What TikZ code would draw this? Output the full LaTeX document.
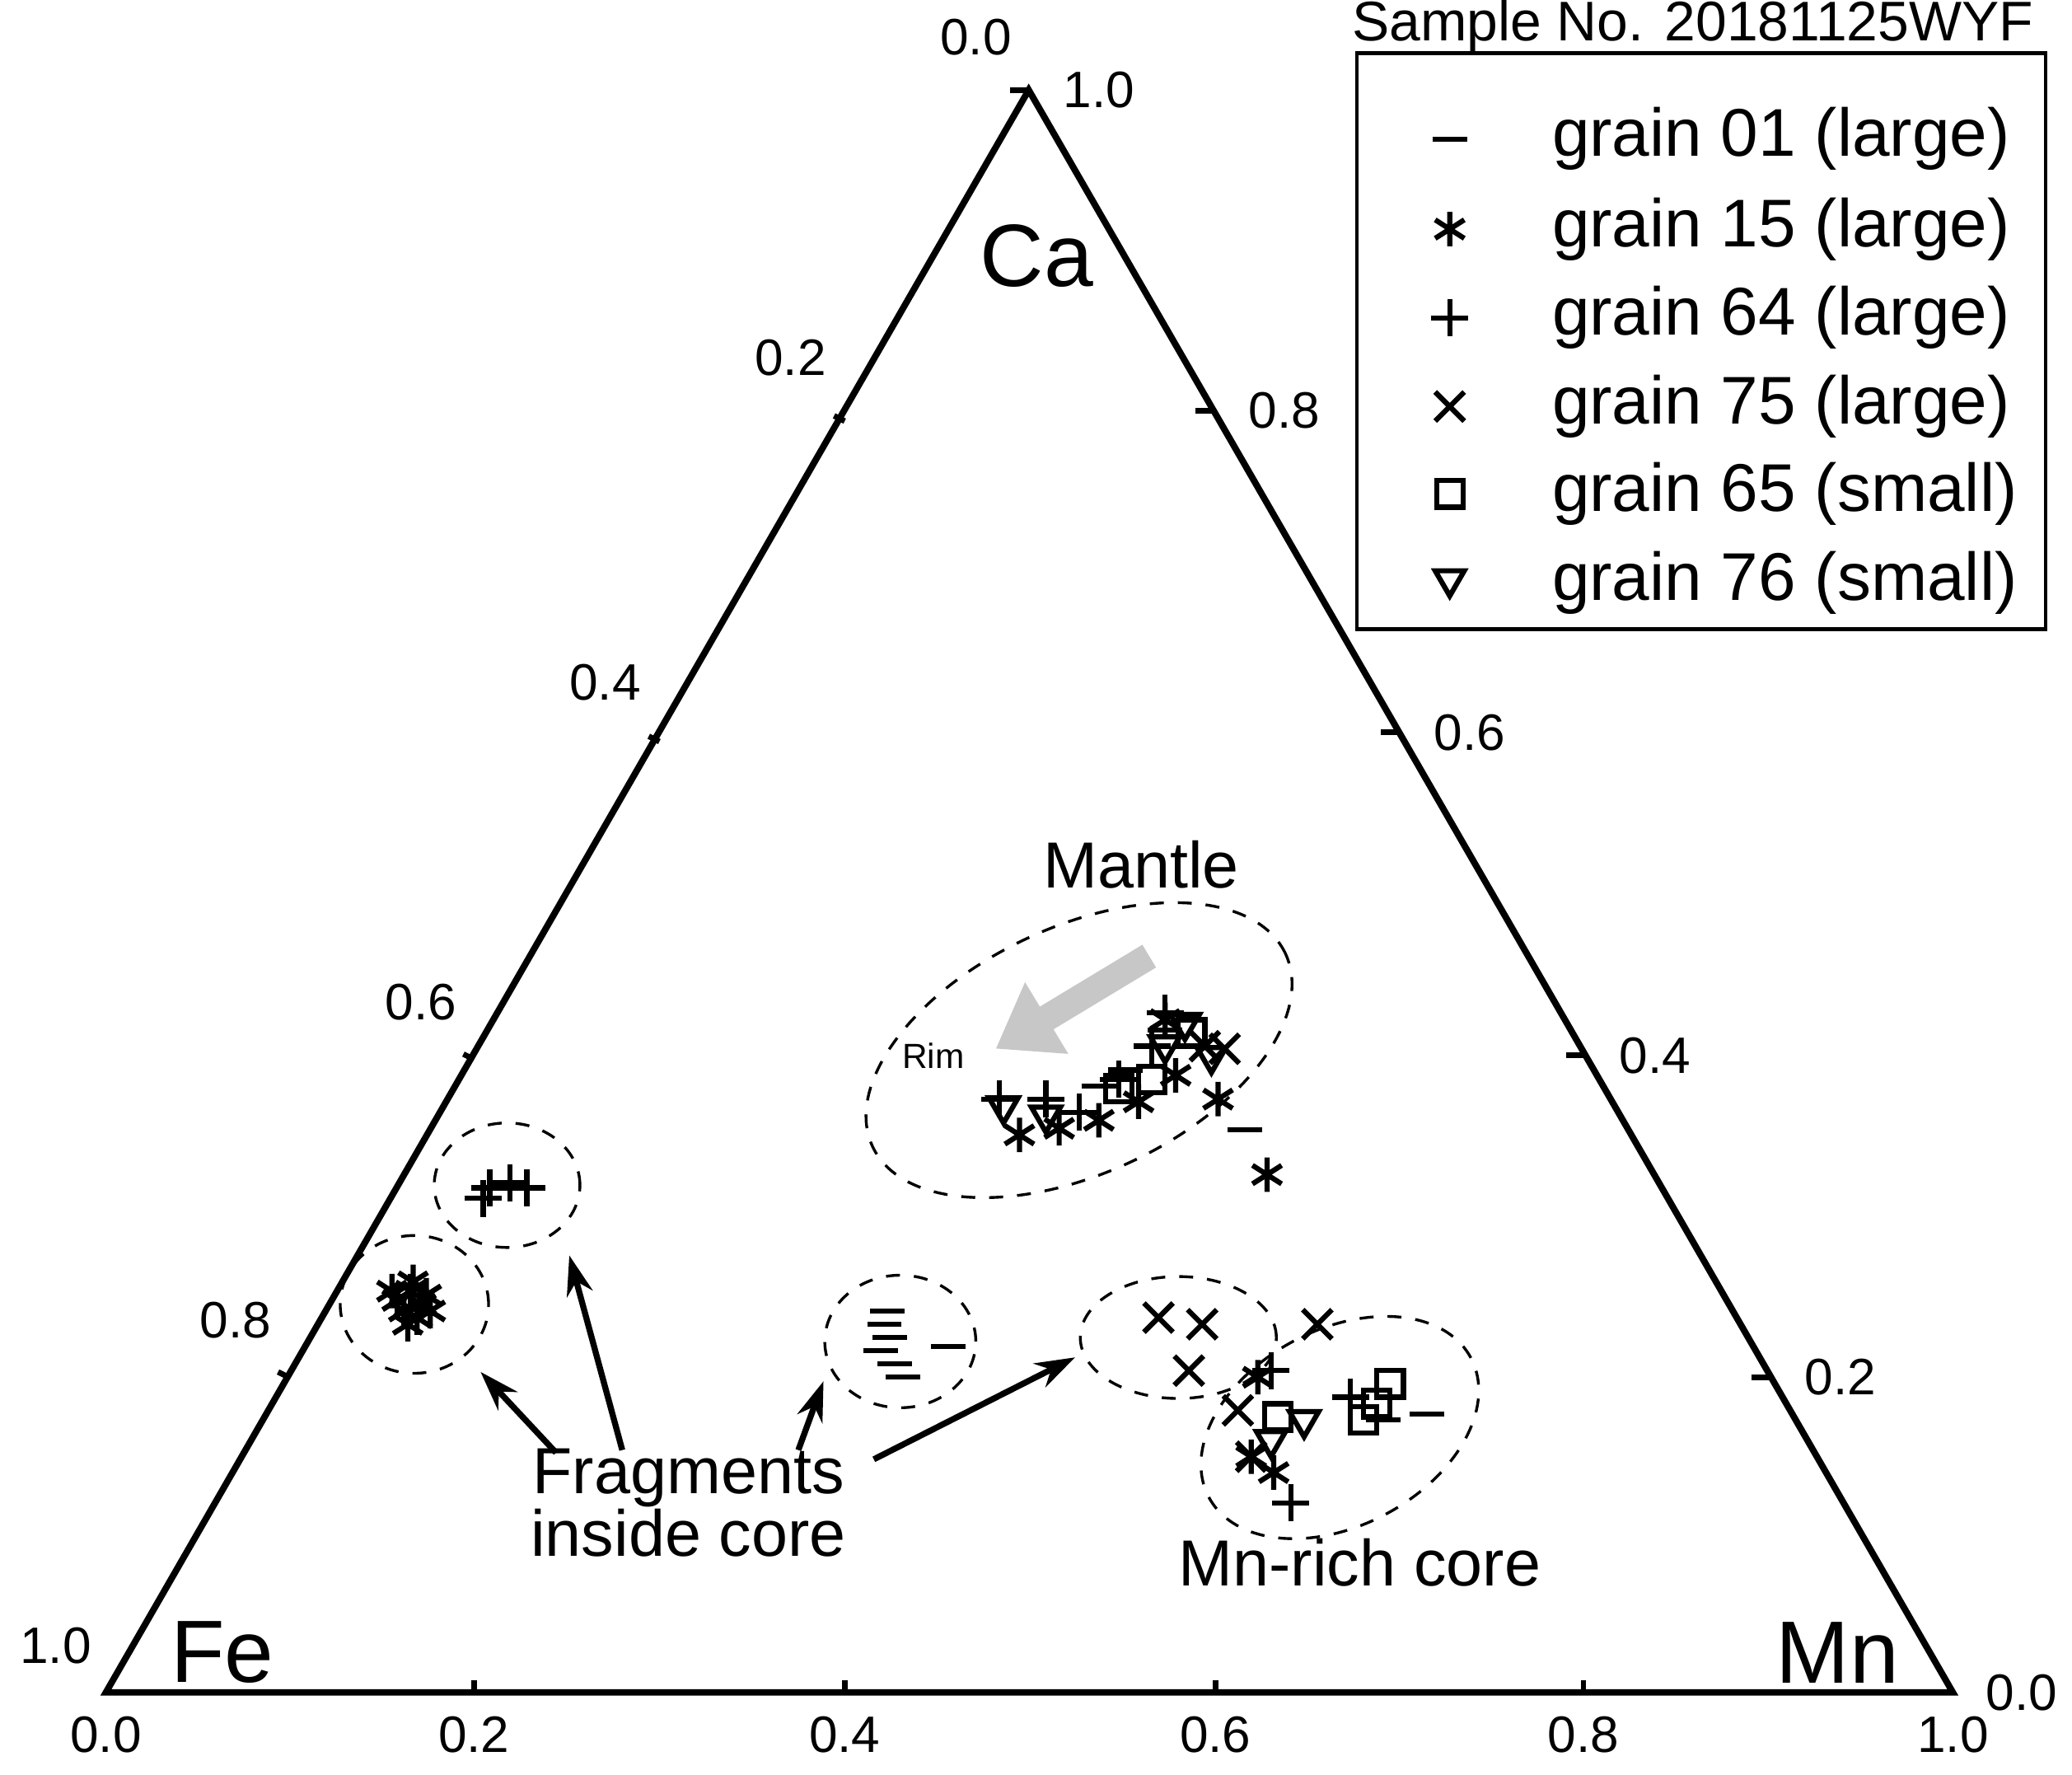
\documentclass[tikz,border=0pt]{standalone}
\usepackage{fontspec}
\setmainfont{Liberation Sans}
\usetikzlibrary{arrows, arrows.meta}

\begin{document}
\begin{tikzpicture}[
      x=0.01cm, y=-0.01cm,
      >=stealth',
      frame/.style={line width=1.4pt},
      tick/.style={line width=1.2pt},
      zone/.style={dashed, line width=0.6pt},
      mk/.style={line width=1.1pt},
      axis label/.style={font=\fontsize{11}{11}\selectfont},
      corner label/.style={font=\fontsize{19}{19}\selectfont},
      note/.style={font=\fontsize{14}{14.5}\selectfont, align=center},
      pointer/.style={->, line width=1.3pt, >={Stealth[length=0.3cm,width=0.2cm]}}
      ]
      \useasboundingbox (0,0) rectangle (1565,1340);
      % markers
      \newcommand{\mdash}[1]{\draw[mk] (#1) +(-13,0) -- +(13,0);}
      \newcommand{\mplus}[1]{\draw[mk] (#1) +(-14,0) -- +(14,0) +(0,-14) -- +(0,14);}
      \newcommand{\mcross}[1]{\draw[mk] (#1) +(-11,-11) -- +(11,11) +(-11,11) -- +(11,-11);}
      \newcommand{\mstar}[1]{\draw[mk] (#1) +(0,-13) -- +(0,13) +(-11,-7) -- +(11,7) +(-11,7) -- +(11,-7);}
      \newcommand{\msquare}[1]{\draw[mk] (#1) +(-10,-10) rectangle +(10,10);}
      \newcommand{\mtri}[1]{\draw[mk] (#1) +(-11,-9) -- +(11,-9) -- +(0,10) -- cycle;}
      % triangle
      \coordinate (Fe) at (80,1278);
      \coordinate (Mn) at (1475,1278);
      \coordinate (Ca) at (777,68);
      \draw[frame] (Fe) -- (Mn) -- (Ca) -- cycle;
      % ticks
      \foreach \x in {358,638,918,1196} {
          \draw[tick] (\x,1278) -- ++(0,-9);
      }
      \foreach \x/\y in {638/318,498/560,358/800,218/1040} {
          \draw[tick] (\x,\y) -- ++(-8,-4);
      }
      \foreach \x/\y in {917/310,1057/553,1197/797,1337/1040} {
          \draw[tick] (\x,\y) -- ++(-14,0);
      }
      \draw[tick] (777,68) -- ++(-14,0);
      % axis labels
      \foreach \x/\t in {80/0.0,358/0.2,638/0.4,918/0.6,1196/0.8,1475/1.0} {
          \node[axis label] (B\x) at (\x,1310) {\t};
      }
      \foreach \x/\y/\t in {597/270/0.2,457/515/0.4,318/757/0.6,178/997/0.8,42/1243/1.0,737/28/0.0} {
          \node[axis label] (L\y) at (\x,\y) {\t};
      }
      \foreach \x/\y/\t in {970/310/0.8,1110/553/0.6,1250/797/0.4,1390/1040/0.2,1527/1278/0.0,830/68/1.0} {
          \node[axis label] (R\y) at (\x,\y) {\t};
      }
      % end members
      \node[corner label] (lCa) at (783,193) {Ca};
      \node[corner label] (lFe) at (168,1248) {Fe};
      \node[corner label] (lMn) at (1388,1248) {Mn};
      % zones
      \draw[zone, rotate around={25:(815,793)}] (815,793) ellipse [x radius=1.72cm, y radius=0.93cm];
      \draw[zone] (383,895) ellipse [x radius=0.55cm, y radius=0.47cm];
      \draw[zone] (313,985) ellipse [x radius=0.56cm, y radius=0.52cm];
      \draw[zone] (680,1013) ellipse [x radius=0.57cm, y radius=0.5cm];
      \draw[zone] (890,1010) ellipse [x radius=0.74cm, y radius=0.46cm];
      \draw[zone, rotate around={28:(1012,1078)}] (1012,1078) ellipse [x radius=1.12cm, y radius=0.74cm];
      % rim arrow
      \coordinate (rimtail) at (868,722);
      \coordinate (rimhead) at (752,792);
      \draw[line width=0.2cm, black!22, -{Triangle[length=0.45cm,width=0.6cm]}] (rimtail) -- (rimhead);
      \node[font=\fontsize{7.5}{8}\selectfont] (rim) at (705,797) {Rim};
      % grain 01
      \foreach \p in {{850,808},{830,820},{940,853},{880,778},{670,990},{668,1000},{672,1010},{665,1020},{676,1030},{716,1017},{682,1040},{1045,1072},{1078,1068}} {
          \mdash{\p}
      }
      % grain 15
      \foreach \p in {{310,975},{318,985},{305,990},{315,995},{322,978},{300,982},{312,968},{296,975},{325,990},{308,1000},{770,857},{800,852},{830,846},{860,832},{888,812},{920,830},{957,887},{880,770},{950,1040},{945,1100},{962,1112}} {
          \mstar{\p}
      }
      % grain 64
      \foreach \p in {{370,897},{385,893},{365,905},{398,897},{755,830},{790,830},{815,840},{845,815},{880,765},{870,790},{960,1035},{1020,1055},{975,1135}} {
          \mplus{\p}
      }
      % grain 75
      \foreach \p in {{875,995},{908,1000},{898,1035},{995,1000},{935,1065},{945,1100},{910,790},{925,792}} {
          \mcross{\p}
      }
      % grain 65
      \foreach \p in {{1050,1045},{1030,1072},{1040,1060},{965,1070},{870,815},{845,822},{900,780}} {
          \msquare{\p}
      }
      % grain 76
      \foreach \p in {{758,838},{790,845},{895,775},{915,800},{985,1075},{960,1090},{880,792}} {
          \mtri{\p}
      }
      % notes
      \node[note] (mantle) at (862,653) {Mantle};
      \node[note] (frag) at (520,1135) {Fragments\\[-1pt]inside core};
      \node[note] (mncore) at (1027,1180) {Mn-rich core};
      \coordinate (fe zone) at (363,1036);
      \coordinate (plus zone) at (430,948);
      \coordinate (dash zone) at (622,1043);
      \coordinate (cross zone) at (812,1025);
      \draw[pointer] (420,1097) -- (fe zone);
      \draw[pointer] (470,1095) -- (plus zone);
      \draw[pointer] (603,1095) -- (dash zone);
      \draw[pointer] (660,1102) -- (cross zone);
      % legend
      \node[anchor=south east, inner sep=1pt, font=\fontsize{12}{12}\selectfont] (title) at (1540,44) {Sample No. 20181125WYF};
      \draw[line width=0.8pt] (1025,40) rectangle (1545,475);
      \mdash{1095,105}
      \mstar{1095,173}
      \mplus{1095,240}
      \mcross{1095,307}
      \msquare{1095,373}
      \mtri{1095,440}
      \foreach \y/\t in {105/grain 01 (large),173/grain 15 (large),240/grain 64 (large),307/grain 75 (large),373/grain 65 (small),440/grain 76 (small)} {
          \node[anchor=west, font=\fontsize{14.5}{15}\selectfont] (G\y) at (1160,\y) {\t};
      }
\end{tikzpicture}
\end{document}
